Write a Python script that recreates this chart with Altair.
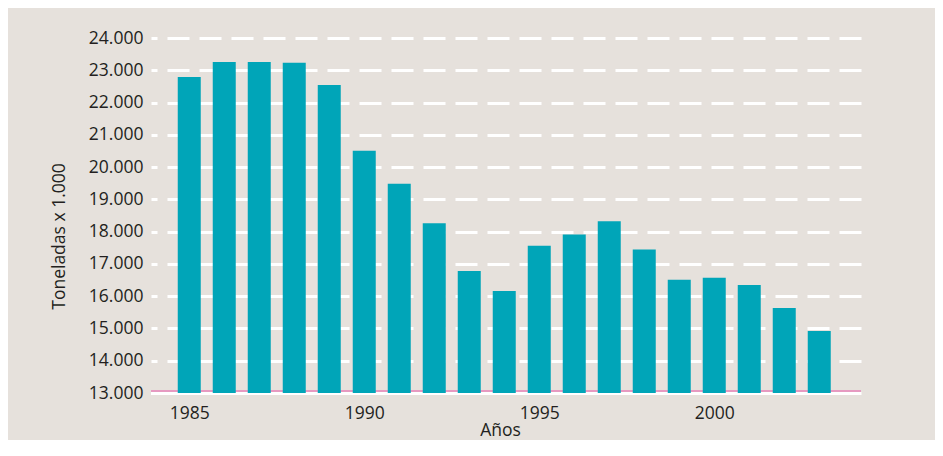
import altair as alt
import pandas as pd

years = list(range(1985, 2004))
values = [22790, 23260, 23260, 23230, 22540, 20510, 19480, 18260, 16780, 16160,
          17560, 17910, 18320, 17450, 16510, 16570, 16350, 15635, 14920]
y_ticks = [13000, 14000, 15000, 16000, 17000, 18000, 19000, 20000, 21000, 22000, 23000, 24000]
x_ticks = [1985, 1990, 1995, 2000]

df = pd.DataFrame({"year": years, "value": values})

FONT = "Open Sans"
TXT = "#231f20"
FS = 17.5

xscale = alt.Scale(domain=[1984.05, 2004.05], nice=False, zero=False)
yscale = alt.Scale(domain=[13000, 24000], nice=False, zero=False)

y_axis = alt.Axis(
    values=y_ticks,
    labelExpr="replace(format(datum.value, ',d'), ',', '.')",
    title="Toneladas x 1.000", grid=True, gridColor="white",
    gridWidth=3, gridDash=[22, 10], gridDashOffset=16, ticks=False,
    domain=False, labelPadding=8, labelFontSize=FS, labelFont=FONT,
    labelColor=TXT, titleFont=FONT, titleFontSize=FS, titleColor=TXT,
    titleFontWeight="normal", titlePadding=20, titleY=198,
    labelOverlap=False, labelFlush=False, tickCount=12,
)
x_axis = alt.Axis(
    values=x_ticks, format="d", title="Años", grid=False, ticks=False,
    domain=False, labelPadding=11, labelFontSize=FS, labelFont=FONT,
    labelColor=TXT, titleFont=FONT, titleFontSize=FS, titleColor=TXT,
    titleFontWeight="normal", titlePadding=0, titleX=349,
    labelOverlap=False, labelFlush=False,
)

base = alt.Chart(df)

white_base = base.mark_rule(color="white", strokeWidth=3).encode(
    y=alt.Y(datum=13000, scale=yscale, axis=y_axis, title="Toneladas x 1.000"),
    x=alt.value(0), x2=alt.value(710),
)
pink_base = base.mark_rule(color="#e69ac0", strokeWidth=1.5, yOffset=-2).encode(
    y=alt.Y(datum=13000, scale=yscale, axis=y_axis, title="Toneladas x 1.000"),
    x=alt.value(0), x2=alt.value(710),
)

bars = base.mark_bar(color="#00a5b8", size=23).encode(
    x=alt.X("year:Q", scale=xscale, axis=x_axis),
    y=alt.Y("value:Q", scale=yscale, axis=y_axis, title="Toneladas x 1.000"),
    y2=alt.datum(13000),
)

chart = alt.layer(white_base, pink_base, bars).properties(
    width=710,
    height=355,
    autosize=alt.AutoSizeParams(type="none"),
    padding={"left": 143, "top": 30, "right": 74, "bottom": 47},
    background="#e6e1dc",
).configure_view(stroke=None)

chart.save("out.html", embed_options={"renderer": "svg", "actions": False})
